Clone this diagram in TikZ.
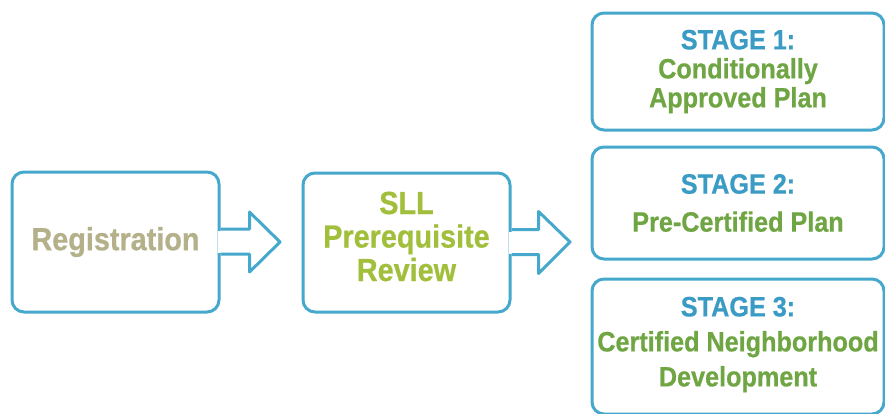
\documentclass[tikz,border=0pt]{standalone}
\usepackage{fontspec}
\newfontfamily\cond[FakeStretch=0.9,FakeBold=0.6]{Liberation Sans}
\usetikzlibrary{calc}
\definecolor{bblue}{HTML}{45A8CC}
\definecolor{hblue}{HTML}{3A9BC5}
\definecolor{tgreen}{HTML}{6FA543}
\definecolor{tlime}{HTML}{A1BF3A}
\definecolor{tbeige}{HTML}{B4B08A}
\begin{document}
\begin{tikzpicture}[x=1pt,y=-1pt,
  box/.style={draw=bblue,line width=3pt,rounded corners=12pt,rectangle,align=center,inner sep=0pt},
  label/.style={align=center,inner sep=0pt},
  arrowline/.style={draw=bblue,line width=3pt,line join=round},
  cover/.style={fill=white,draw=none}]
\useasboundingbox[fill=white] (0,0) rectangle (885,413);
\begin{scope}
\clip (0,0) rectangle (885,413);
% left boxes
\node[box,minimum width=207pt,minimum height=140pt,text=tbeige,
  font=\cond\bfseries\fontsize{32}{34}\selectfont] (reg) at (115.5,242) {Registration};
\node[box,minimum width=207pt,minimum height=139pt] (sll) at (406.5,242.5) {};
\node[label,text=tlime,font=\cond\bfseries\fontsize{32}{33.5}\selectfont] (sllt)
  at ($(sll.center)+(0,-6)$) {SLL\\Prerequisite\\Review};
% stage boxes
\node[box,minimum width=292pt,minimum height=117pt,text=tgreen,
  font=\cond\bfseries\fontsize{28}{29}\selectfont] (s1) at (738,71.5)
  {\textcolor{hblue}{STAGE 1:}\\Conditionally\\Approved Plan};
\node[box,minimum width=292pt,minimum height=112pt,text=tgreen,
  font=\cond\bfseries\fontsize{28}{38}\selectfont] (s2) at (738,203)
  {\textcolor{hblue}{STAGE 2:}\\Pre-Certified Plan};
\node[box,minimum width=292pt,minimum height=135pt] (s3) at (738,346.5) {};
\node[label,text=tgreen,font=\cond\bfseries\fontsize{28}{35}\selectfont] (s3t)
  at ($(s3.center)+(0,-2)$)
  {\textcolor{hblue}{STAGE 3:}\\Certified Neighborhood\\Development};
% block arrows
\coordinate (t1) at (280,242);
\coordinate (t2) at (570,242);
\fill[cover] ($(reg.east)+(-3,-11)$) rectangle ($(reg.east)+(3,11)$);
\draw[arrowline] ($(reg.east)+(0,-13)$) -- ($(reg.east)+(29,-13)$) -- ($(reg.east)+(29,-30)$)
  -- (t1) -- ($(reg.east)+(29,30)$) -- ($(reg.east)+(29,12)$) -- ($(reg.east)+(0,12)$);
\fill[cover] ($(sll.east)+(-3,-11)$) rectangle ($(sll.east)+(3,11)$);
\draw[arrowline] ($(sll.east)+(0,-13)$) -- ($(sll.east)+(27,-13)$) -- ($(sll.east)+(27,-31)$)
  -- (t2) -- ($(sll.east)+(27,31)$) -- ($(sll.east)+(27,12)$) -- ($(sll.east)+(0,12)$);
\end{scope}
\end{tikzpicture}
\end{document}
